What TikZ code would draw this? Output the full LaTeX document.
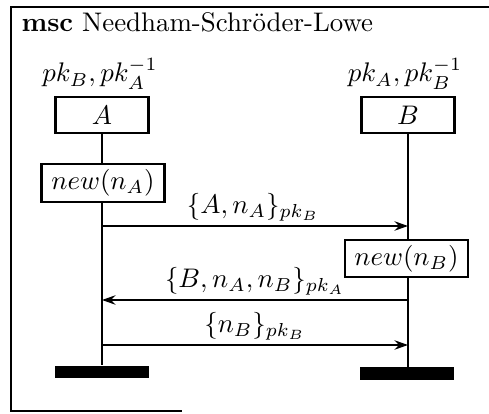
\documentclass[tikz,border=0pt]{standalone}
\usetikzlibrary{arrows.meta}
\begin{document}
\begin{tikzpicture}[x=0.372pt,y=-0.372pt,
  instbox/.style={draw,line width=0.8pt,minimum width=34.6pt,minimum height=13.6pt,inner sep=0pt},
  actbox/.style={draw,line width=0.8pt,minimum width=45.8pt,minimum height=13.9pt,inner sep=0pt},
  endbar/.style={fill=black,minimum width=34.6pt,minimum height=4.8pt,inner sep=0pt},
  life/.style={line width=0.8pt},
  msg/.style={line width=0.6pt,-{Stealth[length=5pt,width=3.5pt]}},
  frame/.style={line width=0.75pt}]
\useasboundingbox (0,0) rectangle (489,414);
% frame
\draw[frame] (489,7) -- (11,7) -- (11,411) -- (182,411);
\node[anchor=base west,inner sep=0pt] (title) at (21,32) {\textbf{msc} Needham-Schr\"oder-Lowe};
% instances
\node[instbox] (A) at (102,115) {$A$};
\node[instbox] (B) at (408,115) {$B$};
\node[anchor=base,inner sep=0pt] (Ak) at (100,82) {$pk_B,pk_A^{-1}$};
\node[anchor=base,inner sep=0pt] (Bk) at (405,82) {$pk_A,pk_B^{-1}$};
% end bars
\node[endbar] (Aend) at (102,372) {};
\node[endbar] (Bend) at (407,373.5) {};
% actions
\node[actbox] (actA) at (103,183) {$new(n_A)$};
\node[actbox] (actB) at (406.5,258.5) {$new(n_B)$};
% lifelines
\draw[life] (A.south) -- (A.south |- actA.north);
\draw[life] (A.south |- actA.south) -- (A.south |- Aend.north);
\draw[life] (B.south) -- (B.south |- actB.north);
\draw[life] (B.south |- actB.south) -- (B.south |- Bend.north);
% messages
\coordinate (a1) at (102,226); \coordinate (b1) at (408,226);
\coordinate (b2) at (408,300); \coordinate (a2) at (102,300);
\coordinate (a3) at (102,345); \coordinate (b3) at (408,345);
\draw[msg] (a1) -- node[above,inner sep=1.5pt,xshift=-0.7pt] (m1) {$\{A,n_A\}_{pk_B}$} (b1);
\draw[msg] (b2) -- node[above,inner sep=1.5pt] (m2) {$\{B,n_A,n_B\}_{pk_A}$} (a2);
\draw[msg] (a3) -- node[above,inner sep=1.5pt] (m3) {$\{n_B\}_{pk_B}$} (b3);
\end{tikzpicture}
\end{document}
